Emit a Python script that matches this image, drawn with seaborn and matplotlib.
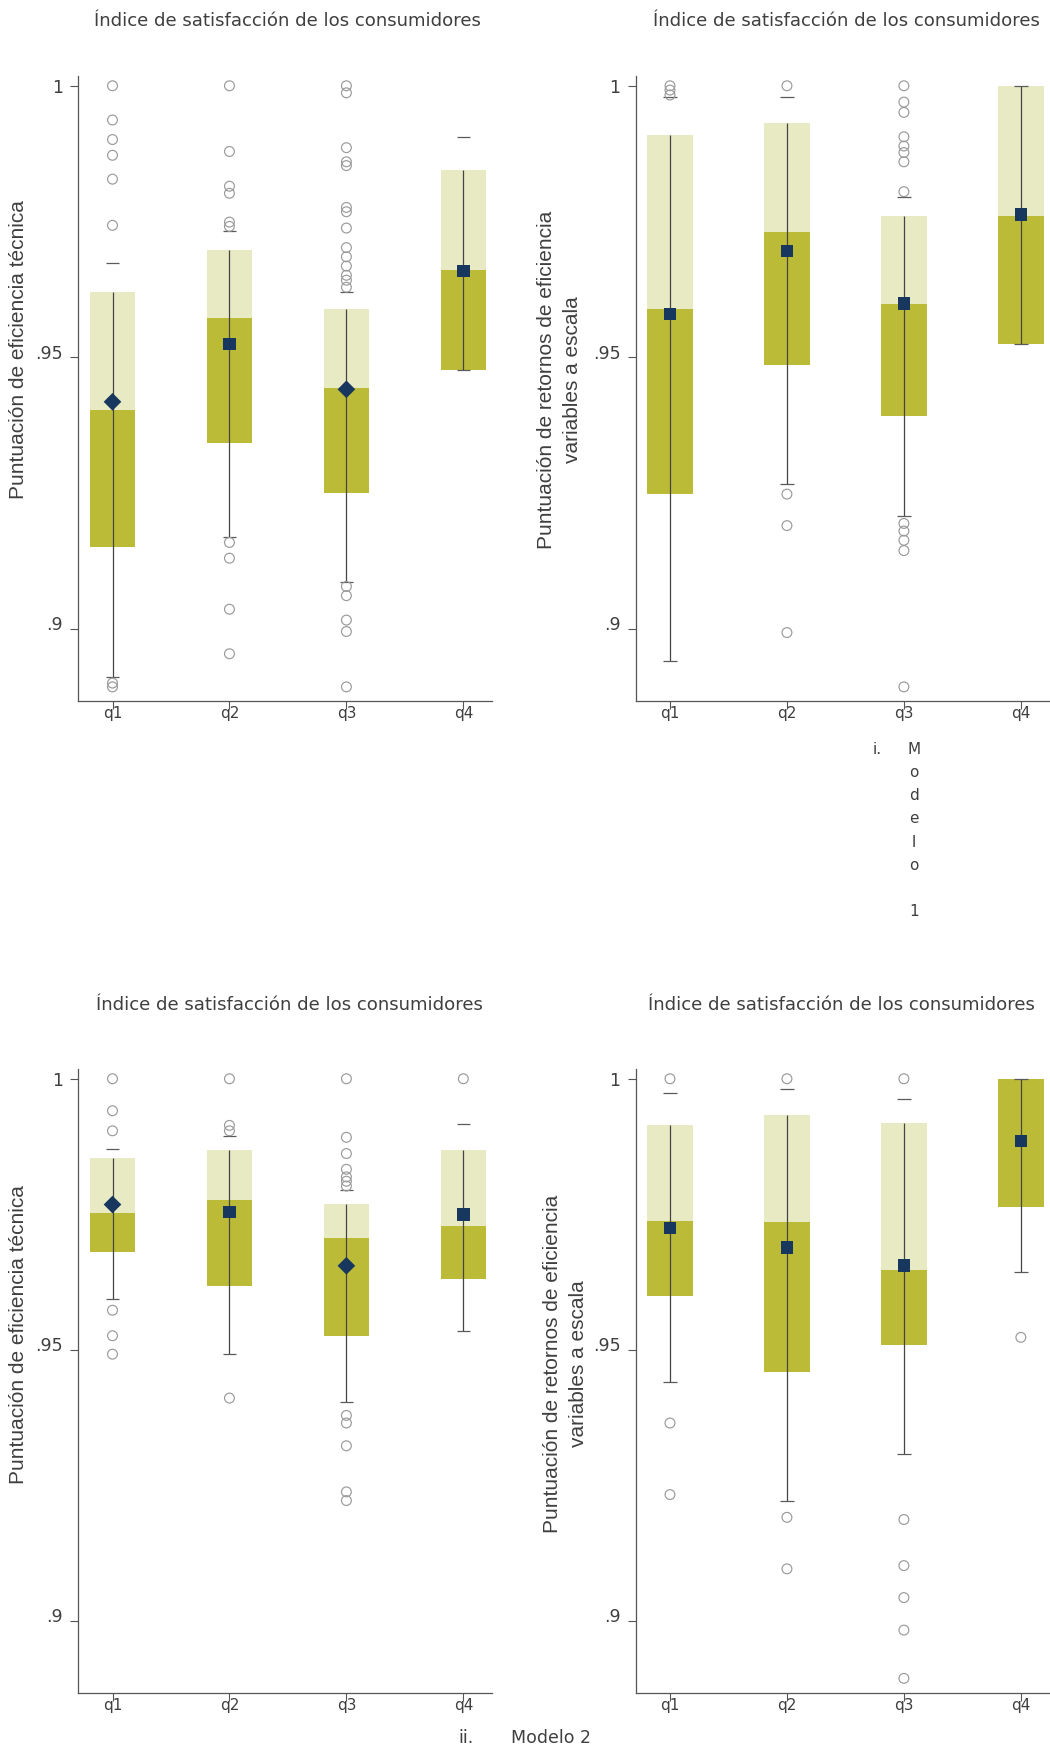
import matplotlib
matplotlib.use("Agg")
import matplotlib.pyplot as plt
import matplotlib.transforms as mtransforms
import numpy as np
import pandas as pd
import seaborn as sns

# ---------------------------------------------------------------------------
# Categories and labels
# ---------------------------------------------------------------------------
quartiles = ["q1", "q2", "q3", "q4"]
ytick_values = [0.9, 0.95, 1.0]
ytick_labels = [".9", ".95", "1"]
title_text = "Índice de satisfacción de los consumidores"
ylabel_te = "Puntuación de eficiencia técnica"
ylabel_vrs = "Puntuación de retornos de eficiencia\nvariables a escala"

# ---------------------------------------------------------------------------
# Modelo 1 - eficiencia técnica
# ---------------------------------------------------------------------------
m1_te_p25 = [0.9150, 0.9343, 0.9250, 0.9476]
m1_te_p50 = [0.9403, 0.9572, 0.9443, 0.9661]
m1_te_p75 = [0.9621, 0.9697, 0.9588, 0.9845]
m1_te_mean = [0.9418, 0.9524, 0.9441, 0.9659]
m1_te_lo = [0.8912, 0.9169, 0.9087, 0.9476]
m1_te_hi = [0.9674, 0.9733, 0.9620, 0.9905]
m1_te_out = [
    [1.0, 0.9937, 0.9901, 0.9872, 0.9828, 0.9743, 0.8900, 0.8893],
    [1.0, 0.9879, 0.9815, 0.9802, 0.9749, 0.9741, 0.9159, 0.9130, 0.9036, 0.8954],
    [1.0, 0.9987, 0.9886, 0.9860, 0.9853, 0.9776, 0.9768, 0.9738, 0.9702,
     0.9685, 0.9668, 0.9651, 0.9642, 0.9629, 0.9078, 0.9061, 0.9016, 0.8995, 0.8893],
    [],
]
m1_te_marker = ["D", "s", "D", "s"]

# Modelo 1 - rendimientos variables a escala
m1_vrs_p25 = [0.9248, 0.9485, 0.9391, 0.9524]
m1_vrs_p50 = [0.9589, 0.9730, 0.9599, 0.9761]
m1_vrs_p75 = [0.9909, 0.9932, 0.9760, 1.0]
m1_vrs_mean = [0.9580, 0.9696, 0.9599, 0.9763]
m1_vrs_lo = [0.8940, 0.9266, 0.9207, 0.9524]
m1_vrs_hi = [0.9979, 0.9979, 0.9796, 1.0]
m1_vrs_out = [
    [1.0, 0.9992, 0.9983],
    [1.0, 0.9248, 0.9190, 0.8993],
    [1.0, 0.9970, 0.9951, 0.9906, 0.9889, 0.9877, 0.9860, 0.9805,
     0.9194, 0.9180, 0.9163, 0.9144, 0.8893],
    [],
]
m1_vrs_marker = ["s", "s", "s", "s"]

# Modelo 2 - eficiencia técnica
m2_te_p25 = [0.9680, 0.9617, 0.9525, 0.9631]
m2_te_p50 = [0.9753, 0.9776, 0.9707, 0.9728]
m2_te_p75 = [0.9854, 0.9869, 0.9769, 0.9868]
m2_te_mean = [0.9768, 0.9754, 0.9655, 0.9750]
m2_te_lo = [0.9593, 0.9492, 0.9404, 0.9534]
m2_te_hi = [0.9871, 0.9894, 0.9795, 0.9916]
m2_te_out = [
    [1.0, 0.9941, 0.9904, 0.9573, 0.9526, 0.9492],
    [1.0, 0.9914, 0.9904, 0.9411],
    [1.0, 0.9892, 0.9862, 0.9833, 0.9819, 0.9811, 0.9802,
     0.9379, 0.9365, 0.9323, 0.9238, 0.9222],
    [1.0],
]
m2_te_marker = ["D", "s", "D", "s"]

# Modelo 2 - rendimientos variables a escala
m2_vrs_p25 = [0.9599, 0.9460, 0.9509, 0.9764]
m2_vrs_p50 = [0.9738, 0.9736, 0.9648, 1.0]
m2_vrs_p75 = [0.9915, 0.9934, 0.9919, 1.0]
m2_vrs_mean = [0.9725, 0.9689, 0.9656, 0.9885]
m2_vrs_lo = [0.9440, 0.9222, 0.9307, 0.9644]
m2_vrs_hi = [0.9973, 0.9981, 0.9963, 1.0]
m2_vrs_out = [
    [1.0, 0.9365, 0.9233],
    [1.0, 0.9191, 0.9096],
    [1.0, 0.9187, 0.9102, 0.9043, 0.8983, 0.8894],
    [0.9523],
]
m2_vrs_marker = ["s", "s", "s", "s"]

# ---------------------------------------------------------------------------
# Style
# ---------------------------------------------------------------------------
LIGHT = "#e8eac4"
DARK = "#bcbb37"
NAVY = "#17375e"
OUTLIER = "#9a9a9a"
WHISKER = "#454545"
CAP = "#5a5a5a"
AXIS = "#555555"
TEXT = "#3f3f3f"

sns.set_theme(style="ticks")
plt.rcParams["font.family"] = ["DejaVu Sans"]
plt.rcParams["axes.edgecolor"] = AXIS
plt.rcParams["axes.linewidth"] = 0.9

W, H = 1050, 1747
fig = plt.figure(figsize=(W / 100, H / 100), dpi=100)
fig.patch.set_facecolor("white")


def px_rect(left, top, width, height):
    return [left / W, 1 - (top + height) / H, width / W, height / H]


def fx(px):
    return px / W


def fy(py):
    return 1 - py / H


def draw_panel(ax, p25, p50, p75, mean, lo, hi, outliers, markers):
    pos = np.arange(len(quartiles))
    width = 0.39
    # upper half of the interquartile box (median to p75) and lower half
    ax.bar(pos, np.subtract(p75, p50), bottom=p50, width=width,
           color=LIGHT, linewidth=0, zorder=1)
    ax.bar(pos, np.subtract(p50, p25), bottom=p25, width=width,
           color=DARK, linewidth=0, zorder=1)
    # spike from the lower adjacent value up to p75, caps at both adjacent values
    ax.vlines(pos, lo, p75, color=WHISKER, linewidth=0.9, zorder=2)
    cap = 0.058
    ax.hlines(lo, pos - cap, pos + cap, color=CAP, linewidth=0.9, zorder=2)
    ax.hlines(hi, pos - cap, pos + cap, color=CAP, linewidth=0.9, zorder=2)

    out_df = pd.DataFrame(
        [(i, v) for i, vals in enumerate(outliers) for v in vals],
        columns=["pos", "score"],
    )
    if len(out_df):
        sns.scatterplot(data=out_df, x="pos", y="score", ax=ax, marker="o",
                        s=50, color=OUTLIER, facecolors="none",
                        edgecolor=OUTLIER, linewidth=0.85, zorder=3,
                        legend=False)

    mean_df = pd.DataFrame({"pos": pos, "score": mean, "shape": markers})
    sns.scatterplot(data=mean_df, x="pos", y="score", style="shape",
                    markers={"D": "D", "s": "s"}, s=81, color=NAVY,
                    edgecolor=NAVY, linewidth=0, zorder=4, legend=False, ax=ax)

    ax.set_xlim(-0.295, 3.245)
    ax.set_ylim(0.8867, 1.0018)
    ax.set_xlabel("")
    ax.set_ylabel("")
    ax.set_xticks(pos)
    ax.set_xticklabels(quartiles)
    ax.set_yticks(ytick_values)
    ax.set_yticklabels(ytick_labels)
    ax.tick_params(axis="y", length=5.8, width=0.8, color=AXIS, pad=5,
                   labelsize=12.5, labelcolor=TEXT)
    ax.tick_params(axis="x", length=5.8, width=0.8, color=AXIS, pad=-2.5,
                   labelsize=11, labelcolor=TEXT)
    # decimal labels sit slightly above their ticks
    shift = mtransforms.ScaledTranslation(0, 5.5 / 100, fig.dpi_scale_trans)
    for lab in ax.get_yticklabels():
        if lab.get_text().startswith("."):
            lab.set_transform(lab.get_transform() + shift)
    sns.despine(ax=ax)
    ax.set_facecolor("white")


panels = [
    (px_rect(78, 76, 414, 625),
     (m1_te_p25, m1_te_p50, m1_te_p75, m1_te_mean, m1_te_lo, m1_te_hi, m1_te_out, m1_te_marker)),
    (px_rect(635.5, 76, 414, 625),
     (m1_vrs_p25, m1_vrs_p50, m1_vrs_p75, m1_vrs_mean, m1_vrs_lo, m1_vrs_hi, m1_vrs_out, m1_vrs_marker)),
    (px_rect(78, 1069, 414, 624),
     (m2_te_p25, m2_te_p50, m2_te_p75, m2_te_mean, m2_te_lo, m2_te_hi, m2_te_out, m2_te_marker)),
    (px_rect(635.5, 1069, 414, 624),
     (m2_vrs_p25, m2_vrs_p50, m2_vrs_p75, m2_vrs_mean, m2_vrs_lo, m2_vrs_hi, m2_vrs_out, m2_vrs_marker)),
]

for rect, series in panels:
    ax = fig.add_axes(rect)
    draw_panel(ax, *series)

# Panel titles
for x, y in [(287, 20.7), (846, 20.7), (289.6, 1005), (841, 1005)]:
    fig.text(fx(x), fy(y), title_text, ha="center", va="center",
             fontsize=13.1, color=TEXT)

# Axis titles
label_font = ["Liberation Sans", "DejaVu Sans"]
for x, y, txt in [(18.7, 350, ylabel_te), (559.5, 380, ylabel_vrs),
                  (18.7, 1335, ylabel_te), (565.5, 1364, ylabel_vrs)]:
    fig.text(fx(x), fy(y), txt, rotation=90, ha="center", va="center",
             multialignment="center", fontsize=15, color=TEXT,
             family=label_font, linespacing=1.42)

# Model captions
fig.text(fx(877.5), fy(750), "i.", ha="center", va="center",
         fontsize=11, color=TEXT)
fig.text(fx(914), fy(750 - 8), "M\no\nd\ne\nl\no\n \n1", ha="center", va="top",
         fontsize=11, color=TEXT, linespacing=1.68)
fig.text(fx(466), fy(1738), "ii.", ha="center", va="center",
         fontsize=12.5, color=TEXT)
fig.text(fx(511), fy(1738), "Modelo 2", ha="left", va="center",
         fontsize=12.5, color=TEXT)

fig.savefig("out.png", dpi=100, facecolor="white")
